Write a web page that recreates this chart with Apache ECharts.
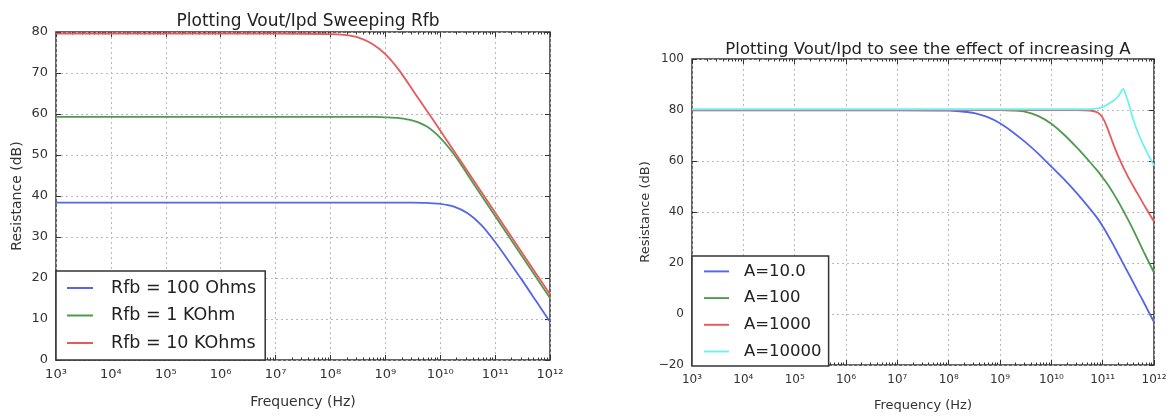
<!DOCTYPE html>
<html>
<head>
<meta charset="utf-8">
<script src="https://cdn.jsdelivr.net/npm/echarts@6/dist/echarts.min.js"></script>
<style>
  html, body { margin: 0; padding: 0; background: #fff; }
  #chart { width: 1170px; height: 417px; }
</style>
</head>
<body>
<div id="chart"></div>
<script>
  // frequencies are kept as exponents (log10 of Hz)
  const rfbExp = [3, 4, 5, 6, 7, 8, 8.25, 8.5, 8.75, 9, 9.25, 9.5, 9.75, 10, 10.25, 10.5, 10.75, 11, 11.25, 11.5, 11.75, 12];
  const rfb100 = [38.4, 38.4, 38.4, 38.4, 38.4, 38.4, 38.4, 38.4, 38.4, 38.4, 38.4, 38.4, 38.3, 38.1, 37.4, 35.8, 32.9, 28.8, 24.1, 19.3, 14.3, 9.3];
  const rfb1k = [59.3, 59.3, 59.3, 59.3, 59.3, 59.3, 59.3, 59.3, 59.3, 59.2, 59.0, 58.4, 57.0, 54.2, 50.2, 45.2, 40.1, 35.1, 30.1, 25.1, 20.1, 15.1];
  const rfb10k = [79.6, 79.6, 79.6, 79.6, 79.6, 79.5, 79.3, 78.7, 77.2, 74.6, 70.7, 65.8, 60.9, 56.0, 51.0, 46.0, 41.0, 36.0, 31.0, 26.0, 21.0, 16.0];
  const rfbNames = ['Rfb = 100 Ohms', 'Rfb = 1 KOhm', 'Rfb = 10 KOhms'];

  const gainExp = [3, 4, 5, 6, 7, 8, 8.25, 8.5, 8.75, 9, 9.25, 9.5, 9.75, 10, 10.25, 10.5, 10.75, 10.9, 11, 11.1, 11.2, 11.3, 11.35, 11.4, 11.45, 11.5, 11.6, 11.7, 11.8, 11.9, 12];
  const gainA10 = [79.9, 79.9, 79.9, 79.9, 79.9, 79.8, 79.4, 78.8, 77.3, 74.8, 71.3, 67.3, 62.8, 57.8, 52.8, 47.3, 41.3, 37.5, 34.4, 31.0, 27.4, 23.6, 21.7, 19.8, 17.9, 16.0, 12.2, 8.4, 4.6, 0.7, -3.2];
  const gainA100 = [80, 80, 80, 80, 80, 80, 80, 80, 80, 80, 79.8, 79.3, 77.6, 74.6, 70.3, 65.2, 59.6, 56.1, 53.5, 50.8, 47.6, 44.2, 42.4, 40.6, 38.7, 36.8, 32.8, 28.6, 24.4, 20.3, 16.2];
  const gainA1000 = [80, 80, 80, 80, 80, 80, 80, 80, 80, 80, 80, 80, 80, 80, 80, 80, 79.8, 79.0, 77.0, 72.5, 67.0, 62.0, 59.8, 57.6, 55.6, 53.6, 50.0, 46.5, 43.0, 39.6, 36.3];
  const gainA10000 = [80.3, 80.3, 80.3, 80.3, 80.3, 80.3, 80.3, 80.3, 80.3, 80.3, 80.3, 80.3, 80.3, 80.3, 80.3, 80.3, 80.3, 80.6, 81.2, 82.2, 83.5, 85.3, 86.8, 88.3, 86.0, 83.0, 76.0, 70.5, 66.0, 62.0, 58.3];
  const gainNames = ['A=10.0', 'A=100', 'A=1000', 'A=10000'];

  const freqTickLabels = ['10³', '10⁴', '10⁵', '10⁶', '10⁷', '10⁸', '10⁹', '10¹⁰', '10¹¹', '10¹²'];

  const font = 'DejaVu Sans';
  const ink = '#333';
  const colors = ['#5566e8', '#4f9a4f', '#e85858', '#6ef0f0'];

  // minor ticks at 2..9 of each decade
  const minorFreqs = [];
  for (let d = 3; d < 12; d += 1) {
    for (let m = 2; m < 10; m += 1) minorFreqs.push(m * Math.pow(10, d));
  }

  function toPoints(exps, vals) {
    return exps.map((e, i) => [Math.pow(10, e), vals[i]]);
  }

  function freqAxes(grid, fs, margin, nameGap) {
    const base = {
      type: 'log', logBase: 10, gridIndex: grid, min: 1e3, max: 1e12, splitNumber: 9,
      axisLine: { show: false, onZero: false },
    };
    return [
      {
        ...base, position: 'bottom',
        name: 'Frequency (Hz)', nameLocation: 'middle', nameGap: nameGap,
        nameTextStyle: { fontSize: fs + 1, color: ink, fontFamily: font },
        axisTick: { inside: true, length: 5, lineStyle: { color: ink } },
        axisLabel: {
          margin: margin, fontSize: fs, color: ink, fontFamily: font,
          formatter: (v) => freqTickLabels[Math.round(Math.log10(v)) - 3],
        },
        splitLine: { show: true, lineStyle: { color: '#b8b8b8', type: [2, 3] } },
      },
      {
        ...base, position: 'top',
        axisTick: { inside: true, length: 5, lineStyle: { color: ink } },
        axisLabel: { show: false }, splitLine: { show: false },
      },
      {
        ...base, position: 'bottom',
        axisTick: { inside: true, length: 2.5, customValues: minorFreqs, lineStyle: { color: ink } },
        axisLabel: { show: false }, splitLine: { show: false },
      },
      {
        ...base, position: 'top',
        axisTick: { inside: true, length: 2.5, customValues: minorFreqs, lineStyle: { color: ink } },
        axisLabel: { show: false }, splitLine: { show: false },
      },
    ];
  }

  function resAxes(grid, min, max, interval, fs, nameGap) {
    const base = {
      type: 'value', gridIndex: grid, min: min, max: max, interval: interval,
      axisLine: { show: false, onZero: false },
    };
    return [
      {
        ...base, position: 'left',
        name: 'Resistance (dB)', nameLocation: 'middle', nameGap: nameGap,
        nameTextStyle: { fontSize: fs + 1, color: ink, fontFamily: font },
        axisTick: { inside: true, length: 5, lineStyle: { color: ink } },
        axisLabel: {
          margin: 8, fontSize: fs, color: ink, fontFamily: font,
          formatter: (v) => (v < 0 ? '\u2212' + Math.abs(v) : String(v)),
        },
        splitLine: { show: true, lineStyle: { color: '#b8b8b8', type: [2, 3] } },
      },
      {
        ...base, position: 'right',
        axisTick: { inside: true, length: 5, lineStyle: { color: ink } },
        axisLabel: { show: false }, splitLine: { show: false },
      },
    ];
  }

  function line(name, data, color, xi, yi) {
    return {
      name: name, type: 'line', xAxisIndex: xi, yAxisIndex: yi,
      symbol: 'none', smooth: 0.3, data: data,
      lineStyle: { width: 1.8, color: color }, itemStyle: { color: color },
    };
  }

  const legendBase = {
    orient: 'vertical', backgroundColor: '#fff', borderColor: ink, borderWidth: 1.5,
    borderRadius: 0, itemWidth: 26, icon: 'path://M0,0H26V2H0Z',
  };

  const option = {
    animation: false,
    textStyle: { fontFamily: font },
    title: [
      { text: 'Plotting Vout/Ipd Sweeping Rfb', left: 303, top: 8, textAlign: 'center',
        textStyle: { fontSize: 17, fontWeight: 'normal', color: '#222', fontFamily: font } },
      { text: 'Plotting Vout/Ipd to see the effect of increasing A', left: 923, top: 36, textAlign: 'center',
        textStyle: { fontSize: 16.5, fontWeight: 'normal', color: '#222', fontFamily: font } },
    ],
    grid: [
      { left: 56, top: 32, width: 494, height: 328, show: true, borderColor: ink, borderWidth: 1.5 },
      { left: 692, top: 59, width: 462, height: 307, show: true, borderColor: ink, borderWidth: 1.5 },
    ],
    xAxis: [...freqAxes(0, 13, 8, 35), ...freqAxes(1, 12, 9, 34)],
    yAxis: [...resAxes(0, 0, 80, 10, 13, 32), ...resAxes(1, -20, 100, 20, 12, 40)],
    legend: [
      { ...legendBase, data: rfbNames, left: 56, bottom: 57, padding: [8, 9, 8, 11], itemGap: 9.5, itemHeight: 18,
        textStyle: { fontSize: 17.5, fontFamily: font, color: '#222', padding: [0, 0, 0, 13] } },
      { ...legendBase, data: gainNames, left: 692, bottom: 51, padding: [7, 7, 6, 12], itemGap: 9.7, itemWidth: 25, itemHeight: 17,
        textStyle: { fontSize: 16.5, fontFamily: font, color: '#222', padding: [0, 0, 0, 10] } },
    ],
    series: [
      line(rfbNames[0], toPoints(rfbExp, rfb100), colors[0], 0, 0),
      line(rfbNames[1], toPoints(rfbExp, rfb1k), colors[1], 0, 0),
      line(rfbNames[2], toPoints(rfbExp, rfb10k), colors[2], 0, 0),
      line(gainNames[0], toPoints(gainExp, gainA10), colors[0], 4, 2),
      line(gainNames[1], toPoints(gainExp, gainA100), colors[1], 4, 2),
      line(gainNames[2], toPoints(gainExp, gainA1000), colors[2], 4, 2),
      line(gainNames[3], toPoints(gainExp, gainA10000), colors[3], 4, 2),
    ],
  };

  const myChart = echarts.init(document.getElementById('chart'), null, { renderer: 'canvas' });
  myChart.setOption(option);
</script>
</body>
</html>
